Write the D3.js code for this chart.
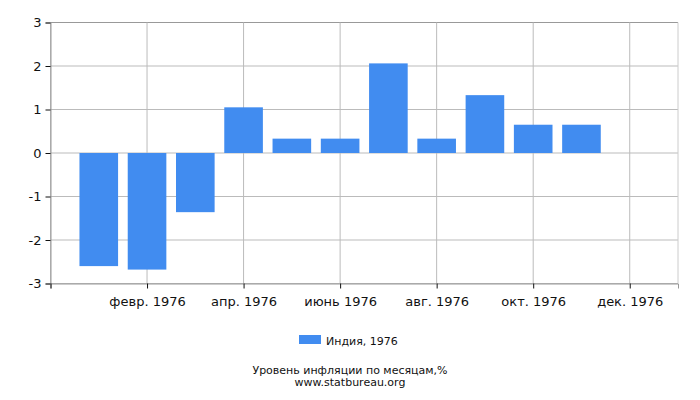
<!DOCTYPE html>
<html>
<head>
<meta charset="utf-8">
<script src="https://cdn.jsdelivr.net/npm/d3@7/dist/d3.min.js"></script>
<style>
  body { margin: 0; background: #fff; }
  text { font-family: "DejaVu Sans", sans-serif; fill: #111; }
</style>
</head>
<body>
<script>
// months are indexed 1..12; axis runs from index 0 to 13
const months = [1, 2, 3, 4, 5, 6, 7, 8, 9, 10, 11];
const values = [-2.60, -2.68, -1.36, 1.05, 0.33, 0.33, 2.06, 0.33, 1.33, 0.65, 0.65];
const tickMonths = [2, 4, 6, 8, 10, 12];
const tickLabels = ["февр. 1976", "апр. 1976", "июнь 1976", "авг. 1976", "окт. 1976", "дек. 1976"];
const yTicks = [-3, -2, -1, 0, 1, 2, 3];
const seriesName = "Индия, 1976";
const title = "Уровень инфляции по месяцам,%";
const site = "www.statbureau.org";

const width = 700, height = 400;
const margin = { left: 50.5, right: 22, top: 22.5, bottom: 116.5 };

const svg = d3.select("body").append("svg")
  .attr("width", width)
  .attr("height", height);

const x = d3.scaleLinear().domain([0, 13]).range([margin.left, width - margin.right]);
const y = d3.scaleLinear().domain([-3, 3]).range([height - margin.bottom, margin.top]);
const step = x(1) - x(0);
const barW = step * 0.8;

// grid
svg.append("g")
  .selectAll("line.h")
  .data(yTicks)
  .join("line")
  .attr("x1", x(0)).attr("x2", x(13))
  .attr("y1", d => y(d)).attr("y2", d => y(d))
  .attr("stroke", d => d === 3 ? "#999" : "#bbb");

svg.append("g")
  .selectAll("line.v")
  .data(tickMonths.concat([0, 13]))
  .join("line")
  .attr("x1", d => x(d)).attr("x2", d => x(d))
  .attr("y1", y(3)).attr("y2", y(-3))
  .attr("stroke", d => d === 13 ? "#ccc" : "#bbb");

// bars
svg.append("g")
  .selectAll("rect")
  .data(months)
  .join("rect")
  .attr("x", (d, i) => x(d) - barW / 2)
  .attr("width", barW)
  .attr("y", (d, i) => y(Math.max(0, values[i])))
  .attr("height", (d, i) => Math.abs(y(values[i]) - y(0)))
  .attr("fill", "#418cf0");

// y axis (plain hyphen for negatives, like the original)
const yAxis = svg.append("g")
  .attr("transform", `translate(${x(0)},0)`)
  .call(d3.axisLeft(y).tickValues(yTicks).tickSize(5).tickFormat(d => String(d)));
yAxis.select(".domain").attr("stroke", "#999");
yAxis.selectAll(".tick line").attr("stroke", "#111");
yAxis.selectAll("text").attr("font-size", 13).attr("dx", "-1");

// x axis
const xAxis = svg.append("g")
  .attr("transform", `translate(0,${y(-3)})`)
  .call(d3.axisBottom(x).tickValues([0].concat(tickMonths)).tickSize(5)
    .tickFormat(d => d === 0 ? "" : tickLabels[tickMonths.indexOf(d)]));
xAxis.select(".domain").attr("stroke", "#999");
xAxis.selectAll(".tick line").attr("stroke", "#111");
xAxis.selectAll("text").attr("font-size", 13).attr("dy", "1.1em");

// legend
svg.append("rect")
  .attr("x", 299).attr("y", 335)
  .attr("width", 22).attr("height", 9)
  .attr("fill", "#418cf0");
svg.append("text")
  .attr("x", 326).attr("y", 345)
  .attr("font-size", 11)
  .text(seriesName);

svg.append("text")
  .attr("x", 350).attr("y", 374)
  .attr("text-anchor", "middle")
  .attr("font-size", 11)
  .text(title);
svg.append("text")
  .attr("x", 350).attr("y", 386)
  .attr("text-anchor", "middle")
  .attr("font-size", 11)
  .text(site);
</script>
</body>
</html>
